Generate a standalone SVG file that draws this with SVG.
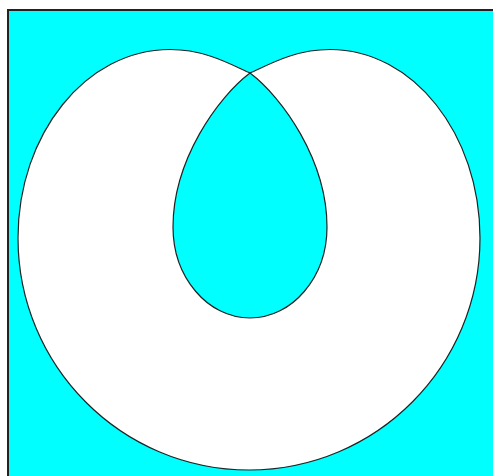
<svg xmlns="http://www.w3.org/2000/svg" width="493" height="476" viewBox="0 0 493 476">
  <style>
    .curve { stroke: #222; stroke-width: 1.2; }
  </style>
  <rect x="0" y="0" width="493" height="476" fill="#ffffff"/>
  <rect id="frame" x="8" y="10" width="500" height="480" fill="#00ffff" stroke="#222" stroke-width="2"/>
  <path id="outer" class="curve" fill="#ffffff"
    d="M250,73 C230,64 205,49.5 170,49.5 C86,49.5 18,134 18,238 C18,366 121.5,470 249,470 C376.5,470 480,366 480,238 C480,134 413,49.5 330,49.5 C295,49.5 270,64 250,73 Z"/>
  <path id="inner" class="curve" fill="#00ffff"
    d="M250,73 C218,97 173,160 173,227 C173,277 207.5,318 250,318 C292.5,318 327,277 327,227 C327,160 282,97 250,73 Z"/>
</svg>
